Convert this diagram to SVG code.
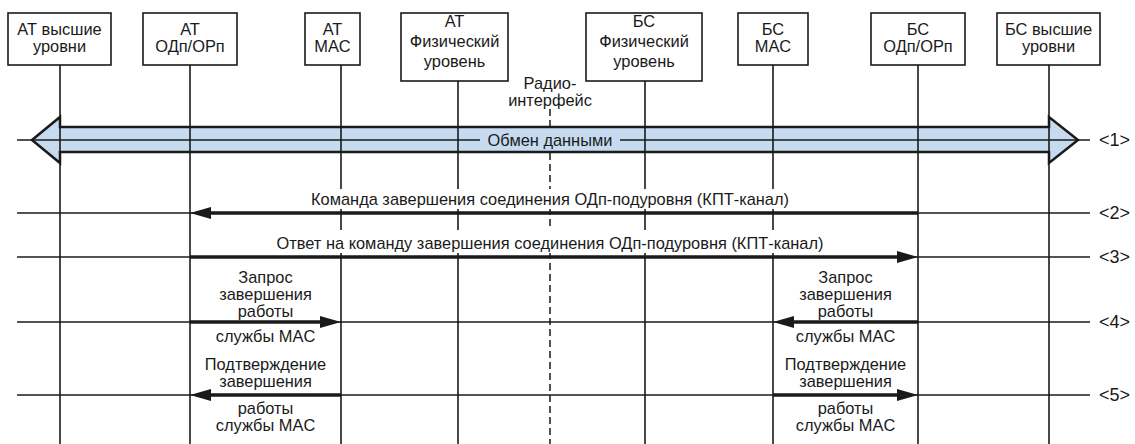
<svg xmlns="http://www.w3.org/2000/svg" width="1135" height="444" viewBox="0 0 1135 444">
<defs>
<style>
text{font-family:"Liberation Sans",Arial,sans-serif;font-size:16.4px;fill:#1a1a1a;text-anchor:middle}
.box{fill:#fff;stroke:#1a1a1a;stroke-width:1.6}
.life{stroke:#1a1a1a;stroke-width:1.6;fill:none}
.row{stroke:#1a1a1a;stroke-width:1.3;fill:none}
.msg{stroke:#1a1a1a;stroke-width:3.5;fill:none;marker-end:url(#ah)}
.bg{fill:#fff}
.lbl{text-anchor:start;font-size:18px}
</style>
<marker id="ah" viewBox="0 0 6 3.4" refX="0" refY="1.7" markerWidth="6" markerHeight="3.4" orient="auto">
<path d="M0,0 L6,1.7 L0,3.4 z" fill="#1a1a1a"/>
</marker>
</defs>
<rect width="1135" height="444" fill="#fff"/>

<g id="exchange">
<polygon points="32,140 60,117 60,127 1049,127 1049,117 1078,140 1049,163 1049,152 60,152 60,163" fill="#c6dbf0" stroke="#1a1a1a" stroke-width="2.5" stroke-linejoin="miter"/>
</g>

<g id="rows">
<line class="row" x1="17" y1="140" x2="1090" y2="140"/>
<line class="row" x1="17" y1="213" x2="1090" y2="213"/>
<line class="row" x1="17" y1="257" x2="1090" y2="257"/>
<line class="row" x1="17" y1="322" x2="1090" y2="322"/>
<line class="row" x1="17" y1="395" x2="1090" y2="395"/>
</g>

<g id="at-high">
<line class="life" x1="60" y1="65" x2="60" y2="444"/>
<rect class="box" x="8" y="13" width="103" height="52"/>
<text x="59.5" y="35">АТ высшие</text>
<text x="59.5" y="52">уровни</text>
</g>
<g id="at-odp">
<line class="life" x1="190" y1="65" x2="190" y2="444"/>
<rect class="box" x="143" y="13" width="94" height="52"/>
<text x="190" y="35">АТ</text>
<text x="190" y="52">ОДп/ОРп</text>
</g>
<g id="at-mac">
<line class="life" x1="341" y1="65" x2="341" y2="444"/>
<rect class="box" x="305" y="13" width="55" height="52"/>
<text x="332.5" y="35">АТ</text>
<text x="332.5" y="52">MAC</text>
</g>
<g id="at-phy">
<line class="life" x1="458" y1="81" x2="458" y2="444"/>
<rect class="box" x="401" y="13" width="107" height="68"/>
<text x="454.5" y="27">АТ</text>
<text x="454.5" y="47">Физический</text>
<text x="454.5" y="67">уровень</text>
</g>
<g id="radio">
<line x1="550" y1="109" x2="550" y2="444" stroke="#1a1a1a" stroke-width="1.5" stroke-dasharray="7,4"/>
<text x="550" y="89">Радио-</text>
<text x="550" y="106">интерфейс</text>
</g>
<g id="bs-phy">
<line class="life" x1="645" y1="81" x2="645" y2="444"/>
<rect class="box" x="586" y="13" width="116" height="68"/>
<text x="644" y="27">БС</text>
<text x="644" y="47">Физический</text>
<text x="644" y="67">уровень</text>
</g>
<g id="bs-mac">
<line class="life" x1="773" y1="65" x2="773" y2="444"/>
<rect class="box" x="738" y="13" width="70" height="52"/>
<text x="773" y="35">БС</text>
<text x="773" y="52">MAC</text>
</g>
<g id="bs-odp">
<line class="life" x1="918" y1="65" x2="918" y2="444"/>
<rect class="box" x="871" y="13" width="94" height="52"/>
<text x="918" y="35">БС</text>
<text x="918" y="52">ОДп/ОРп</text>
</g>
<g id="bs-high">
<line class="life" x1="1049" y1="65" x2="1049" y2="444"/>
<rect class="box" x="997" y="13" width="103" height="52"/>
<text x="1048.5" y="35">БС высшие</text>
<text x="1048.5" y="52">уровни</text>
</g>

<g id="connectors">
<rect x="480" y="130" width="140" height="20" fill="#c6dbf0"/>
<text x="550" y="146">Обмен данными</text>

<rect class="bg" x="302" y="189" width="496" height="20"/>
<text x="550" y="205">Команда завершения соединения ОДп-подуровня (КПТ-канал)</text>
<line class="msg" x1="918" y1="213" x2="211" y2="213"/>

<rect class="bg" x="258" y="230" width="584" height="23"/>
<text x="550" y="249">Ответ на команду завершения соединения ОДп-подуровня (КПТ-канал)</text>
<line class="msg" x1="190" y1="257" x2="897" y2="257"/>

<text x="265.5" y="283">Запрос</text>
<text x="265.5" y="300">завершения</text>
<text x="265.5" y="317">работы</text>
<text x="265.5" y="342">службы MAC</text>
<line class="msg" x1="190" y1="322" x2="320" y2="322"/>

<text x="845.5" y="283">Запрос</text>
<text x="845.5" y="300">завершения</text>
<text x="845.5" y="317">работы</text>
<text x="845.5" y="342">службы MAC</text>
<line class="msg" x1="918" y1="322" x2="794" y2="322"/>

<text x="265.5" y="370">Подтверждение</text>
<text x="265.5" y="387">завершения</text>
<text x="265.5" y="414">работы</text>
<text x="265.5" y="431">службы MAC</text>
<line class="msg" x1="341" y1="395" x2="211" y2="395"/>

<text x="845.5" y="370">Подтверждение</text>
<text x="845.5" y="387">завершения</text>
<text x="845.5" y="414">работы</text>
<text x="845.5" y="431">службы MAC</text>
<line class="msg" x1="773" y1="395" x2="897" y2="395"/>

<text class="lbl" x="1099" y="146">&lt;1&gt;</text>
<text class="lbl" x="1099" y="219">&lt;2&gt;</text>
<text class="lbl" x="1099" y="263">&lt;3&gt;</text>
<text class="lbl" x="1099" y="328">&lt;4&gt;</text>
<text class="lbl" x="1099" y="401">&lt;5&gt;</text>
</g>
</svg>
